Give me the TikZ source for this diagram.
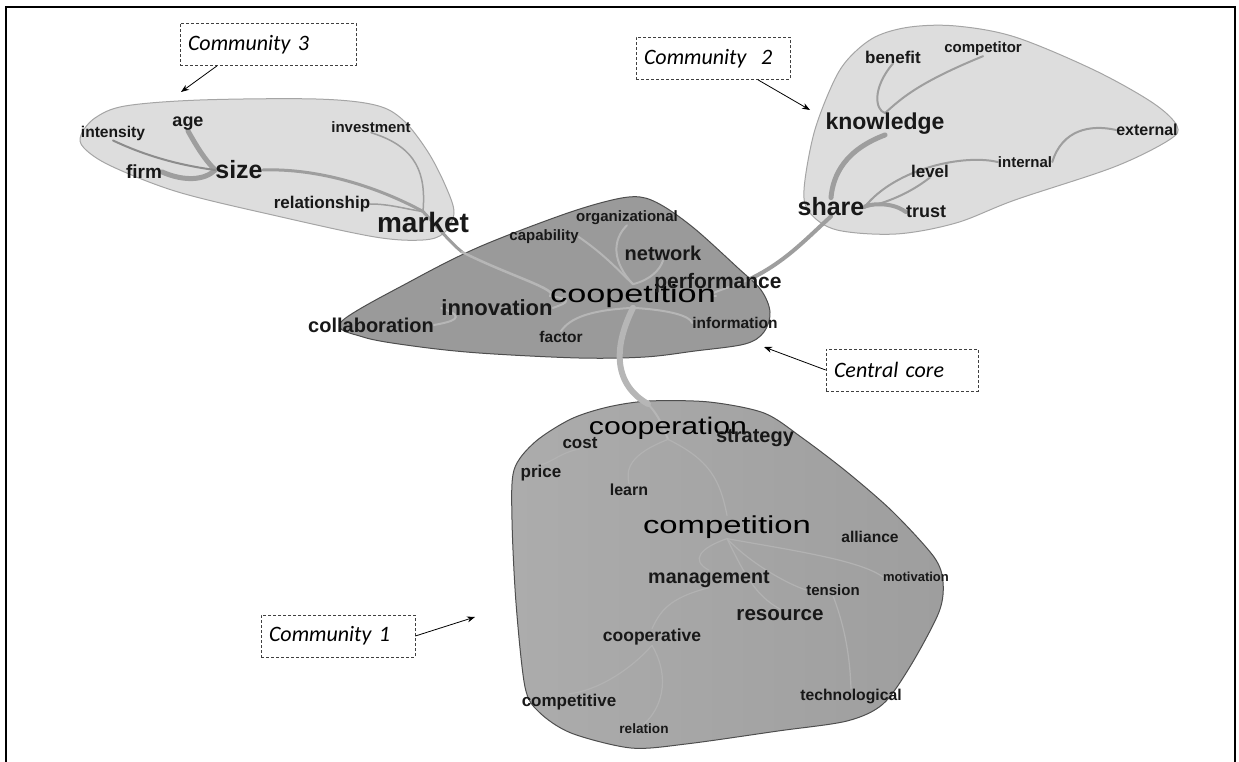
\documentclass[tikz,border=0pt]{standalone}
\usepackage{graphicx}
\usepackage{fontspec}
\setmainfont{Carlito}
\setsansfont{Liberation Sans}
\usetikzlibrary{arrows.meta,positioning}
\definecolor{lightblob}{RGB}{221,221,221}
\definecolor{lightrim}{RGB}{165,165,165}
\definecolor{coreblob}{RGB}{154,154,154}
\definecolor{darkrim}{RGB}{78,78,78}
\definecolor{lowerleft}{RGB}{172,172,172}
\definecolor{lowerright}{RGB}{158,158,158}
\definecolor{branchgray}{RGB}{158,158,158}
\definecolor{veingray}{RGB}{182,182,182}
\definecolor{faintvein}{RGB}{178,178,178}
\definecolor{wordink}{RGB}{24,24,24}
\newcommand{\widen}[2]{\scalebox{#1}[1]{#2}}
\pgfdeclarelayer{blobs}
\pgfdeclarelayer{branches}
\pgfsetlayers{blobs,branches,main}

\begin{document}
\begin{tikzpicture}[
  x=1pt,y=-1pt,
  word/.style={text=wordink,inner sep=0pt,font=\sffamily\bfseries\fontsize{#1}{#1}\selectfont},
  bigword/.style={text=black,inner sep=0pt,font=\sffamily\fontsize{#1}{#1}\selectfont},
  notebox/.style={draw=black!75,dash pattern=on 3pt off 2pt,line width=0.7pt,align=left,
    font=\itshape\fontsize{22}{24}\selectfont,inner xsep=8pt,text width=#1,minimum height=42pt},
  callarrow/.style={-{Stealth[length=8pt,width=6pt]},line width=0.8pt},
  branch/.style={draw=branchgray,line width=#1,line cap=round},
  vein/.style={draw=veingray,line width=#1,line cap=round}
]
  \useasboundingbox (0,0) rectangle (1239,762);
  \draw[line width=1.5pt] (6,762) -- (6,7) -- (1235,7) -- (1235,762);

  % community outlines
  \begin{pgfonlayer}{blobs}
    \draw[fill=lightblob,draw=lightrim,line width=1pt] plot[smooth cycle,tension=0.55] coordinates {
      (81,135) (95,118) (125,106) (200,100) (316,99) (375,105) (403,120) (428,152) (446,187)
      (454,213) (444,233) (423,240) (375,237) (277,216) (178,192) (111,166) (84,148)};
    \draw[fill=lightblob,draw=lightrim,line width=1pt] plot[smooth cycle,tension=0.55] coordinates {
      (849,58) (875,37) (910,27) (956,26) (1015,37) (1094,70) (1153,103) (1177,126) (1169,140)
      (1114,167) (1015,200) (956,223) (896,234) (837,230) (810,213) (804,190) (814,133) (833,83)};
    \draw[fill=coreblob,draw=darkrim,line width=1pt] plot[smooth cycle,tension=0.55] coordinates {
      (341,322) (413,280) (479,247) (562,215) (612,200) (640,197) (663,206) (695,229) (738,268)
      (761,290) (770,312) (764,332) (745,344) (695,351) (645,357) (579,358) (479,353) (413,346) (363,337)};
    \draw[left color=lowerleft,right color=lowerright,draw=darkrim,line width=1pt] plot[smooth cycle,tension=0.5] coordinates {
      (608,407) (649,401) (709,402) (764,413) (801,437) (847,472) (893,512) (934,557) (943,582)
      (939,612) (911,665) (883,704) (847,721) (778,731) (686,744) (631,748) (571,733) (539,712)
      (525,687) (516,603) (512,520) (514,470) (535,442) (571,419)};
  \end{pgfonlayer}

  % community 3
  \node[word=15.6] (intensity) at (113,133) {intensity};
  \node[word=18] (age) at (188,124) {age};
  \node[word=15] (investment) at (371,127) {investment};
  \node[word=19] (firm) at (144,172) {firm};
  \node[word=25] (size) at (239,170) {size};
  \node[word=17] (relationship) at (322,204) {relationship};
  \node[word=28] (market) at (423,222) {market};

  % community 2
  \node[word=17] (benefit) at (893,57) {benefit};
  \node[word=15] (competitor) at (983,49) {competitor};
  \node[word=23] (knowledge) at (885,124) {knowledge};
  \node[word=16] (external) at (1147,130) {external};
  \node[word=15] (internal) at (1025,162) {internal};
  \node[word=17] (level) at (930,171) {level};
  \node[word=25] (share) at (831,207) {share};
  \node[word=18] (trust) at (926,212) {trust};

  % central core
  \node[word=15] (organizational) at (627,218) {organizational};
  \node[word=15] (capability) at (544,237) {capability};
  \node[word=20] (network) at (663,253) {network};
  \node[bigword=25] (coopetition) at (633,296) {\widen{1.37}{coopetition}};
  \node[word=21] (performance) at (718,283) {performance};
  \node[word=22] (innovation) at (497,308) {innovation};
  \node[word=20] (collaboration) at (371,325) {collaboration};
  \node[word=15.5] (factor) at (561,337) {factor};
  \node[word=15.5] (information) at (735,323) {information};

  % community 1
  \node[bigword=24] (cooperation) at (668,428) {\widen{1.26}{cooperation}};
  \node[word=20] (strategy) at (755,438) {strategy};
  \node[word=17] (cost) at (580,443) {cost};
  \node[word=17] (price) at (541,473) {price};
  \node[word=16] (learn) at (629,490) {learn};
  \node[bigword=24.5] (competition) at (727,527) {\widen{1.34}{competition}};
  \node[word=15.6] (alliance) at (870,537) {alliance};
  \node[word=19.7] (management) at (709,579) {management};
  \node[word=13] (motivation) at (916,577) {motivation};
  \node[word=15] (tension) at (833,590) {tension};
  \node[word=20.6] (resource) at (780,615) {resource};
  \node[word=17.5] (cooperative) at (652,637) {cooperative};
  \node[word=15.7] (technological) at (851,696) {technological};
  \node[word=17] (competitive) at (569,702) {competitive};
  \node[word=13.6] (relation) at (644,729) {relation};

  \coordinate (mkentry) at (462,252);
  \coordinate (c2entry) at (750,279);
  \coordinate (c1entry) at (648,404);

  \begin{pgfonlayer}{branches}
    % community 3 branches
    \draw[branch=5pt] (age.south) .. controls (197,147) and (205,160) .. (size.west);
    \draw[branch=5pt] (firm.east) .. controls (185,182) and (205,180) .. (size.west);
    \draw[branch=2pt,draw=black!45] (intensity.south) .. controls (150,158) and (185,166) .. (size.west);
    \draw[branch=3pt] (size.east) .. controls (320,168) and (380,188) .. (market.north);
    \draw[branch=1.5pt] (relationship.east) .. controls (390,204) and (405,209) .. (market.north);
    \draw[branch=1.5pt] (investment.south) .. controls (418,147) and (426,175) .. (market.north);
    \draw[branch=3pt] (market.north) .. controls (440,230) and (452,244) .. (mkentry);
    % community 2 branches
    \draw[branch=5pt] (knowledge.south) .. controls (845,150) and (833,175) .. (share.north);
    \draw[branch=2pt] (benefit.south) .. controls (872,88) and (875,110) .. (knowledge.north);
    \draw[branch=2pt] (competitor.south) .. controls (915,84) and (900,100) .. (knowledge.north);
    \draw[branch=2pt] (share.east) .. controls (896,168) and (964,154) .. (internal.west);
    \draw[branch=2pt] (internal.east) .. controls (1062,130) and (1090,124) .. (external.west);
    \draw[branch=2pt] (level.south) .. controls (908,195) and (880,205) .. (share.east);
    \draw[branch=4pt] (trust.west) .. controls (890,200) and (865,205) .. (share.east);
    \draw[branch=4pt] (share.south) .. controls (805,240) and (785,262) .. (c2entry);
    % central core veins
    \draw[vein=2.5pt] (mkentry) .. controls (510,276) and (560,290) .. (coopetition.west);
    \draw[vein=2pt] (capability.east) .. controls (605,255) and (618,270) .. (coopetition.north);
    \draw[vein=2pt] (organizational.south) .. controls (612,240) and (612,262) .. (coopetition.north);
    \draw[vein=2pt] (network.south) .. controls (660,270) and (650,280) .. (coopetition.north);
    \draw[vein=2pt] (c2entry) .. controls (730,288) and (700,295) .. (coopetition.east);
    \draw[vein=2pt] (collaboration.east) .. controls (450,322) and (470,318) .. (innovation.west);
    \draw[vein=2pt] (innovation.east) .. controls (560,305) and (580,300) .. (coopetition.west);
    \draw[vein=2pt] (factor.north) .. controls (570,318) and (590,310) .. (coopetition.south);
    \draw[vein=2pt] (information.west) .. controls (690,316) and (670,310) .. (coopetition.south);
    \draw[vein=6pt] (coopetition.south) .. controls (612,350) and (615,385) .. (c1entry);
    % community 1 veins
    \draw[vein=2pt] (c1entry) .. controls (655,412) and (660,418) .. (cooperation.south);
    \draw[vein=1.2pt,draw=faintvein] (cooperation.south) .. controls (710,460) and (720,480) .. (competition.north);
    \draw[vein=1.2pt,draw=faintvein] (cooperation.south) .. controls (628,455) and (626,470) .. (learn.north);
    \draw[vein=1.2pt,draw=faintvein] (cost.south) .. controls (562,452) and (552,462) .. (price.north);
    \draw[vein=1.2pt,draw=faintvein] (competition.south) .. controls (700,548) and (690,560) .. (management.north);
    \draw[vein=1.2pt,draw=faintvein] (competition.south) .. controls (752,565) and (790,585) .. (tension.west);
    \draw[vein=1.2pt,draw=faintvein] (competition.south) .. controls (745,575) and (755,595) .. (resource.north);
    \draw[vein=1.2pt,draw=faintvein] (competition.south) .. controls (790,550) and (860,560) .. (motivation.west);
    \draw[vein=1.2pt,draw=faintvein] (management.south) .. controls (668,598) and (660,612) .. (cooperative.north);
    \draw[vein=1.2pt,draw=faintvein] (cooperative.south) .. controls (632,668) and (600,690) .. (competitive.north);
    \draw[vein=1.2pt,draw=faintvein] (cooperative.south) .. controls (672,680) and (660,710) .. (relation.north);
    \draw[vein=1.2pt,draw=faintvein] (tension.south) .. controls (846,630) and (850,660) .. (technological.north);
  \end{pgfonlayer}

  % callouts
  \node[notebox=160] (comm3) at (268,44.5) {Community 3};
  \node[notebox=138] (comm2) at (713,58.5) {Community~ 2};
  \node[notebox=136] (core) at (902,370) {Central core};
  \node[notebox=138] (comm1) at (338,636) {Community 1};
  \coordinate (comm3tip) at (181,92);
  \coordinate (comm2tip) at (810,110);
  \coordinate (coretip) at (764,347);
  \coordinate (comm1tip) at (475,617);
  \draw[callarrow] ([xshift=-51]comm3.south) -- (comm3tip);
  \draw[callarrow] ([xshift=45]comm2.south) -- (comm2tip);
  \draw[callarrow] (core.west) -- (coretip);
  \draw[callarrow] (comm1.east) -- (comm1tip);
\end{tikzpicture}
\end{document}
